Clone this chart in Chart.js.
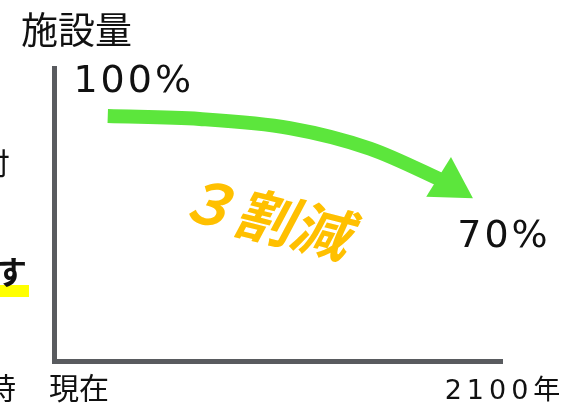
<!DOCTYPE html>
<html>
<head>
<meta charset="utf-8">
<script src="https://cdn.jsdelivr.net/npm/chart.js@4/dist/chart.umd.min.js"></script>
<style>
  html, body { margin: 0; padding: 0; background: #fff; }
  #wrap { width: 569px; height: 406px; position: relative; }
</style>
</head>
<body>
<div id="wrap"><canvas id="c"></canvas></div>
<script>
// Axis endpoints (0 = now, 100 = 2100) and their labels
const xTicks  = [0, 100];
const xLabels = ["現在", "2100年"];
const yTitle  = "施設量";

// Facility level at start / end of the arrow
const levelLabels = ["100%", "70%"];
const reductionLabel = "３割減";

// Arrow path (chart units, 0–100 on both axes)
const arrowX = [12.0, 32.5, 52.6, 70.5, 88.4];
const arrowY = [83.6, 82.6, 79.5, 72.5, 60.4];

// Clipped text from the neighbouring panel on the left edge
const edgeText = ["付", "に", "す", "時"];

const GREEN  = "#5ce63c";
const ORANGE = "#ffc000";
const AXIS   = "#595b5f";
const INK    = "#111111";
const JP     = "'Noto Sans CJK JP', sans-serif";
const NUM    = "'DejaVu Sans', 'Noto Sans CJK JP', sans-serif";

const last = arrowX.length - 1;

const textPlugin = {
  id: "sketchText",
  afterDraw(chart) {
    const { ctx, scales: { x, y } } = chart;
    ctx.save();
    ctx.fillStyle = INK;
    ctx.textBaseline = "middle";

    // y axis title
    ctx.font = `37px ${JP}`;
    ctx.textAlign = "left";
    ctx.fillText(yTitle, 21, 30);

    // x axis end labels
    ctx.font = `30px ${JP}`;
    ctx.textAlign = "left";
    ctx.fillText(xLabels[0], x.getPixelForValue(xTicks[0]) - 5, 388);
    ctx.font = `27px ${NUM}`;
    ctx.letterSpacing = "5px";
    ctx.textAlign = "center";
    ctx.fillText(xLabels[1], x.getPixelForValue(xTicks[1]) + 3, 392);

    // level labels near arrow start / end
    ctx.font = `38px ${NUM}`;
    ctx.letterSpacing = "3px";
    const p0 = [x.getPixelForValue(arrowX[0]), y.getPixelForValue(arrowY[0])];
    ctx.fillText(levelLabels[0], p0[0] + 26, p0[1] - 34);
    ctx.fillText(levelLabels[1], x.getPixelForValue(xTicks[1]) + 2, 237);
    ctx.letterSpacing = "0px";

    // "３割減"
    ctx.save();
    ctx.translate(x.getPixelForValue(47.0), y.getPixelForValue(49.3));
    ctx.rotate(14 * Math.PI / 180);
    ctx.font = `italic bold 58px ${JP}`;
    ctx.fillStyle = ORANGE;
    ctx.textAlign = "center";
    ctx.fillText(reductionLabel, 0, 0);
    ctx.restore();

    // clipped neighbour text
    ctx.textAlign = "right";
    ctx.font = `30px ${JP}`;
    ctx.fillText(edgeText[0], 10, 163);
    ctx.fillText(edgeText[1], 2, 205);
    ctx.fillStyle = "#ffff00";
    ctx.fillRect(0, 285, 29, 12);
    ctx.fillStyle = INK;
    ctx.font = `bold 32px ${JP}`;
    ctx.fillText(edgeText[2], 27, 272);
    ctx.font = `30px ${JP}`;
    ctx.fillText(edgeText[3], 16, 388);
    ctx.restore();
  }
};

new Chart(document.getElementById("c"), {
  type: "line",
  data: {
    datasets: [{
      data: arrowX.map((v, i) => ({ x: v, y: arrowY[i] })),
      borderColor: GREEN,
      borderWidth: 14,
      borderCapStyle: "butt",
      cubicInterpolationMode: "monotone",
      pointStyle: "triangle",
      pointRadius: arrowX.map((_, i) => i === last ? 27 : 0),
      pointRotation: 122,
      pointBackgroundColor: GREEN,
      pointBorderWidth: 0,
      pointHoverRadius: 0
    }]
  },
  options: {
    responsive: true,
    maintainAspectRatio: false,
    animation: false,
    devicePixelRatio: 1,
    events: [],
    layout: { padding: { left: 54, top: 68, right: 67, bottom: 45 } },
    plugins: { legend: { display: false }, tooltip: { enabled: false } },
    scales: {
      x: {
        type: "linear", min: 0, max: 100,
        ticks: { display: false },
        grid: { display: false, drawTicks: false },
        border: { display: true, color: AXIS, width: 5 }
      },
      y: {
        min: 0, max: 100,
        ticks: { display: false },
        grid: { display: false, drawTicks: false },
        border: { display: true, color: AXIS, width: 5 }
      }
    }
  },
  plugins: [textPlugin]
});
</script>
</body>
</html>
